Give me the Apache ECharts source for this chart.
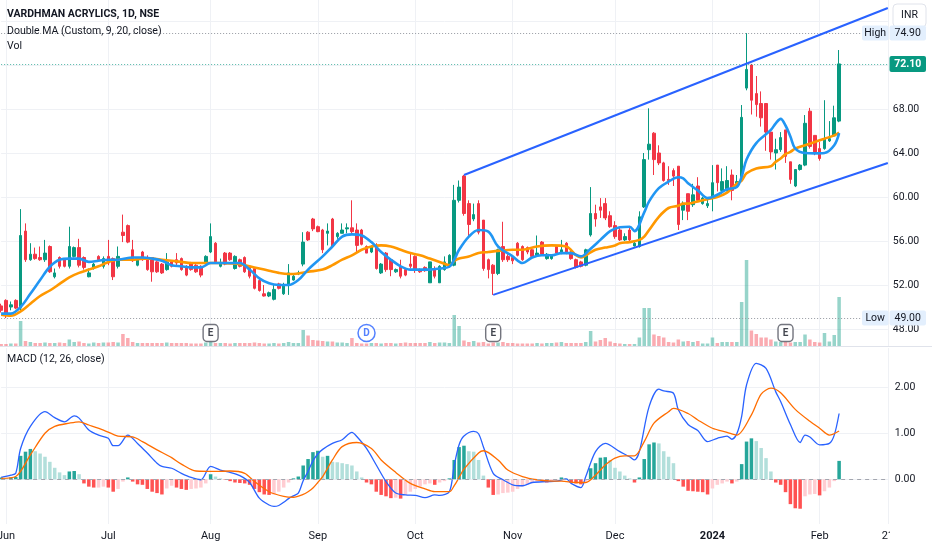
<!DOCTYPE html>
<html><head><meta charset="utf-8">
<script src="https://cdn.jsdelivr.net/npm/echarts@6/dist/echarts.min.js"></script>
<style>html,body{margin:0;padding:0;background:#fff}#c{width:932px;height:550px}</style>
</head><body><div id="c"></div>
<script>
// ---- data (bar position 0 = 31 May 2023, last = 7 Feb 2024) ----
const open = [50.1,50.6,50.0,50.6,49.9,56.9,54.3,54.8,54.5,54.3,
55.5,52.75,54.5,54.3,53.7,54.6,55.4,54.5,52.75,53.5,
54.6,53.7,54.6,54.4,53.7,56.8,57.4,55.2,53.8,55.0,
54.5,54.5,54.1,53.9,53.4,54.1,54.3,54.4,53.7,54.0,
53.8,53.7,54.0,55.0,55.8,53.7,54.9,54.9,53.5,54.3,
54.5,53.7,53.5,52.4,51.2,51.0,50.7,52.1,51.2,52.0,
52.45,53.0,53.9,56.8,58.0,57.3,57.0,56.7,58.0,56.4,
56.7,57.1,57.2,57.0,57.0,55.5,55.0,55.6,53.1,54.9,
54.3,53.2,53.7,53.4,53.9,54.6,53.4,53.6,52.2,53.4,
52.2,53.4,53.7,53.8,59.7,61.9,59.4,58.0,59.4,57.9,
54.3,53.8,53.05,55.5,54.6,54.5,55.8,55.5,55.4,55.2,
54.7,55.9,54.4,54.4,55.5,54.9,55.8,55.0,54.3,54.1,
53.8,56.55,58.5,59.1,59.4,58.3,57.4,57.0,56.1,57.0,
55.55,55.5,59.1,64.3,65.8,64.0,63.1,61.6,62.4,62.8,
58.8,60.3,59.3,61.0,59.4,59.2,60.0,62.9,60.6,60.6,
62.0,61.2,61.85,69.9,72.0,69.4,68.5,68.5,65.9,64.0,
64.3,66.1,63.2,61.0,62.5,62.9,67.8,65.6,64.4,64.4,
65.1,65.55,66.9];
const high = [50.3,50.7,50.5,50.7,58.9,57.6,55.8,55.4,55.5,56.1,
55.6,53.5,54.6,54.4,57.3,55.5,56.2,54.6,53.5,54.0,
54.7,54.6,56.1,54.5,55.5,58.4,57.5,56.1,54.5,55.1,
54.7,54.5,54.2,54.0,54.9,54.2,54.9,54.5,53.8,54.1,
53.9,53.8,54.7,57.6,55.9,54.4,55.0,55.0,54.7,54.4,
54.6,53.8,53.5,52.7,52.0,51.4,52.0,52.2,52.2,53.9,
53.0,53.3,56.8,56.9,58.1,57.4,57.1,57.6,58.1,56.8,
57.6,57.6,59.7,57.6,57.1,55.6,55.6,55.8,54.0,55.0,
54.4,53.5,54.3,53.5,54.9,54.7,53.5,53.7,54.1,53.7,
53.8,54.6,54.8,61.1,61.5,62.0,59.7,59.4,59.7,57.9,
54.4,53.9,55.3,57.75,54.8,54.6,55.9,55.6,55.5,55.3,
56.5,56.0,54.9,54.8,55.6,56.1,55.9,55.1,54.4,54.2,
55.3,60.9,59.3,59.9,59.9,58.7,57.8,57.2,56.7,57.2,
55.95,58.7,64.0,68.06,65.9,64.7,63.2,62.8,62.6,62.8,
59.6,60.3,61.2,61.8,60.0,60.0,62.9,62.9,62.6,62.8,
62.5,62.0,68.36,74.9,72.1,71.0,69.6,68.5,65.9,65.3,
65.9,66.1,63.2,62.5,63.0,67.45,68.1,65.6,65.0,68.8,
66.9,68.3,73.36];
const low = [49.5,49.0,49.7,49.8,49.7,54.1,54.2,54.3,54.2,54.1,
53.1,52.6,53.5,53.6,53.5,54.5,53.6,53.4,52.7,53.4,
54.2,53.5,53.8,52.45,53.5,55.9,55.8,54.1,53.7,54.2,
53.3,52.3,53.1,53.0,53.3,53.6,53.8,53.3,52.8,53.3,
53.1,52.7,53.9,54.9,54.0,53.6,53.8,54.2,53.4,53.6,
53.1,52.6,51.6,51.4,50.95,50.9,50.6,51.6,51.1,51.1,
52.4,52.9,53.7,56.0,56.9,56.8,54.9,55.6,55.4,56.2,
56.7,56.7,56.7,54.9,55.6,54.9,54.9,53.4,53.0,53.2,
52.8,53.1,52.6,52.8,53.5,53.1,53.1,53.2,52.2,52.6,
52.2,53.3,53.6,53.7,59.5,58.3,56.4,57.8,56.6,53.3,
52.6,51.1,52.9,54.1,54.1,53.9,54.6,54.2,54.8,54.5,
54.6,54.7,54.3,54.3,54.8,54.8,54.8,54.3,53.5,53.6,
53.7,56.4,57.3,58.1,57.9,57.2,56.2,56.0,56.0,56.0,
55.5,55.4,59.0,63.4,62.0,62.9,61.4,61.1,61.0,57.0,
57.9,57.9,59.1,59.6,59.3,59.0,58.7,60.5,60.3,60.5,
59.7,61.0,61.6,69.7,67.5,67.3,66.4,64.2,63.4,62.5,
64.1,63.1,61.2,60.9,62.4,62.8,64.4,63.8,63.3,64.3,
65.0,65.5,66.8];
const close = [49.7,49.3,50.2,49.9,56.5,54.3,54.8,54.4,54.3,54.9,
53.2,53.1,53.7,53.7,55.5,55.4,53.8,53.6,53.1,53.9,
54.3,54.4,54.0,52.75,54.6,56.5,55.9,54.2,54.3,54.3,
53.4,53.2,53.2,53.1,54.1,53.7,54.0,53.4,52.9,53.4,
53.2,52.9,54.6,56.4,54.1,54.0,53.9,54.3,54.6,53.7,
53.2,52.8,51.7,51.5,51.0,51.3,51.6,51.7,52.0,53.1,
52.8,53.1,55.9,56.1,57.1,56.85,55.2,56.9,55.5,56.7,
57.0,57.2,56.85,55.6,55.7,54.9,55.5,53.5,53.9,53.4,
53.4,53.4,52.8,52.9,53.7,53.4,53.2,53.3,54.1,52.8,
53.7,54.1,54.7,59.7,60.9,58.5,57.5,58.4,56.8,53.5,
53.4,53.05,55.2,54.3,54.3,54.2,54.7,54.3,55.0,54.6,
54.9,54.8,54.8,54.7,54.9,55.2,54.9,54.4,53.6,53.7,
55.2,58.5,58.0,58.8,58.1,57.3,56.4,56.1,56.4,56.1,
55.8,58.2,63.4,64.8,63.4,63.1,61.5,61.5,61.9,57.5,
59.4,58.7,60.2,59.7,59.9,59.4,61.3,61.3,61.4,61.5,
60.6,61.4,67.24,71.6,68.8,68.4,67.2,65.9,64.1,64.3,
65.4,63.7,61.6,62.5,62.9,66.7,64.6,64.1,63.5,65.3,
65.3,67.2,72.1];
// volume, relative units
const volume = [2,2,2.5,2.5,25,5,4,3,3,3.5,
3,3,3.5,3,6.5,4,4.5,3,2.5,3.5,
3,3.5,3.5,4,3.5,12,8,4,3,3,
3,3,3,3,3.5,3,3,3,3,2.5,
2.5,2.5,3.5,4,3,3,3,2.5,3,3,
3,3,3.5,3,2.5,2.5,3,2.5,3,4,
3,3,16,10.5,6,5.5,5,4.5,4.5,3.5,
3.5,3,8,3,2.5,2.5,3,3,2.5,3,
3,2.5,3,3.5,3,3,3,3,4,3,
3.5,3.5,3,31,20,5.5,4,5,3.5,4,
2.5,3.5,3.5,4,3,3,2.5,2.5,2.5,2.5,
3,2.5,3,3,3.5,4,3,3,3,3,
4,15,4.5,6,8,4.5,3,2.5,2,2,
2,8.5,38,38,11.5,10,8.5,4,3.5,6.5,
4.5,5,4,5,2.5,2.5,8.5,3,4,4,
4,4,44,86,15.5,12,8.5,8.5,6.5,4.5,
4,4,3.5,4,4,11.5,6.5,4,3.5,13,
4.5,11,49];
const macdHist = [0.04,0.03,0.04,0.05,0.51,0.60,0.66,0.61,0.56,0.49,
0.38,0.25,0.15,0.09,0.17,0.18,0.11,-0.09,-0.16,-0.18,
-0.18,-0.16,-0.18,-0.27,-0.21,-0.05,0.04,-0.05,-0.11,-0.12,
-0.21,-0.27,-0.30,-0.33,-0.20,-0.14,-0.18,-0.21,-0.23,-0.21,
-0.20,-0.18,-0.09,0.11,0.06,0.02,-0.01,-0.04,-0.07,-0.08,
-0.09,-0.12,-0.21,-0.28,-0.33,-0.34,-0.33,-0.27,-0.18,-0.07,
0.02,0.06,0.30,0.44,0.59,0.62,0.49,0.51,0.38,0.37,
0.35,0.33,0.30,0.17,0.04,-0.07,-0.11,-0.27,-0.34,-0.37,
-0.41,-0.40,-0.42,-0.34,-0.27,-0.21,-0.16,-0.11,-0.09,-0.12,
-0.07,-0.04,0.02,0.42,0.70,0.73,0.61,0.60,0.42,0.08,
-0.18,-0.34,-0.33,-0.30,-0.29,-0.27,-0.21,-0.16,-0.11,-0.07,
-0.05,-0.04,-0.07,-0.04,-0.01,0.04,0.02,-0.07,-0.09,-0.11,
-0.05,0.24,0.35,0.47,0.48,0.42,0.25,0.17,0.08,0.02,
-0.07,0.04,0.44,0.76,0.80,0.78,0.61,0.49,0.35,-0.04,
-0.16,-0.25,-0.26,-0.27,-0.28,-0.33,-0.20,-0.12,-0.09,-0.05,
-0.09,-0.05,0.33,0.82,0.89,0.83,0.68,0.46,0.17,-0.07,
-0.12,-0.28,-0.54,-0.63,-0.64,-0.37,-0.33,-0.32,-0.35,-0.26,
-0.18,-0.04,0.40];
// [bar position, value] points
const ma9Pts = [[0,49.4],[2,49.4],[4,50.0],[6,51.2],[8,52.45],[10,53.66],[12,54.3],[14,54.4],[16,54.4],[18,54.1],[20,54.2],[22,54.3],[24,54.3],[27,54.5],[29,54.5],[31,54.4],[33,54.2],[35,53.8],[37,53.7],[39,53.6],[41,53.6],[43,54.0],[45,54.0],[47,54.0],[49,54.0],[51,53.4],[53,52.6],[55,52.15],[57,52.0],[59,52.0],[61,52.45],[63,53.4],[66,54.6],[68,55.5],[70,56.4],[72,56.6],[74,56.5],[76,55.9],[78,55.0],[80,54.3],[82,53.7],[84,53.4],[86,53.4],[88,53.4],[90,53.5],[92,53.66],[93,54.3],[94,55.2],[96,56.4],[98,57.0],[100,56.85],[102,55.5],[105,54.6],[107,54.0],[109,54.5],[111,54.7],[113,54.7],[115,54.9],[117,54.9],[119,54.6],[121,55.3],[123,56.1],[125,56.9],[127,57.25],[129,57.3],[130,56.9],[132,58.6],[133,59.6],[135,60.8],[137,61.4],[139,61.8],[140,61.7],[141,61.25],[143,60.6],[145,59.9],[147,60.2],[149,60.7],[151,60.9],[152,61.85],[153,63.4],[155,64.9],[158,66.1],[159,66.7],[160,67.1],[161,66.5],[162,65.5],[163,64.4],[165,64.0],[167,63.97],[169,64.0],[171,64.7],[172,65.8]];
const ma20Pts = [[0,49.3],[2,49.2],[4,49.6],[6,50.3],[8,51.0],[10,51.5],[12,52.1],[14,52.7],[16,53.1],[18,53.4],[20,53.7],[22,54.1],[24,54.3],[27,54.3],[29,54.4],[31,54.4],[33,54.3],[35,54.2],[37,54.1],[39,54.0],[41,54.0],[43,54.0],[45,54.0],[47,53.97],[49,53.9],[51,53.7],[53,53.5],[55,53.3],[57,53.1],[59,53.0],[61,53.05],[63,53.2],[66,53.4],[68,53.8],[70,54.3],[72,54.7],[74,55.2],[76,55.5],[78,55.6],[80,55.5],[82,55.2],[84,54.9],[86,54.7],[88,54.4],[90,54.1],[92,53.8],[93,54.2],[94,54.4],[96,54.6],[98,54.9],[100,55.0],[102,55.1],[105,55.2],[107,55.2],[110,55.5],[113,55.6],[116,55.5],[118,54.7],[119,54.5],[120,54.7],[122,55.2],[124,55.4],[126,55.6],[127,55.8],[129,55.9],[131,56.1],[132,56.4],[133,57.0],[135,58.2],[137,59.0],[139,59.2],[140,59.4],[141,59.4],[143,59.6],[145,59.8],[147,60.0],[149,60.4],[151,61.2],[152,61.5],[153,62.15],[155,62.6],[158,62.8],[159,63.2],[160,63.5],[161,63.9],[162,64.1],[163,64.4],[165,64.7],[167,65.0],[169,65.3],[171,65.6],[172,65.85]];
const macdPts = [[0,0.04],[2,0.09],[3,0.13],[4,0.67],[6,1.15],[9,1.47],[11,1.34],[13,1.25],[15,1.38],[16,1.33],[18,1.07],[20,0.96],[22,0.89],[23,0.73],[24,0.73],[26,0.96],[28,0.78],[30,0.57],[32,0.35],[33,0.28],[35,0.24],[37,0.13],[39,0.04],[41,-0.01],[43,0.28],[45,0.20],[47,0.15],[49,0.08],[51,-0.07],[53,-0.41],[55,-0.56],[56,-0.59],[57,-0.57],[58,-0.50],[59,-0.42],[60,-0.36],[61,-0.30],[62,-0.03],[63,0.17],[64,0.40],[65,0.55],[66,0.65],[68,0.78],[70,0.86],[72,1.02],[73,0.93],[75,0.67],[77,0.31],[79,-0.05],[81,-0.30],[83,-0.34],[85,-0.35],[87,-0.40],[89,-0.34],[90,-0.35],[92,-0.27],[93,0.30],[94,0.75],[95,0.94],[97,1.04],[98,0.99],[99,0.70],[101,0.13],[103,-0.01],[105,-0.12],[107,-0.14],[109,-0.07],[112,-0.05],[114,-0.04],[116,0.01],[117,-0.09],[119,-0.18],[120,0.06],[122,0.60],[124,0.78],[127,0.60],[129,0.49],[130,0.42],[131,0.60],[133,1.58],[135,1.96],[136,1.92],[138,1.87],[139,1.51],[141,1.19],[143,1.06],[145,0.82],[147,0.89],[149,0.94],[150,0.87],[151,0.99],[152,1.37],[153,2.05],[155,2.52],[157,2.41],[159,1.90],[160,1.69],[162,1.19],[164,0.80],[165,0.96],[166,0.92],[168,0.75],[170,0.78],[171,0.96],[172,1.43]];
const signalPts = [[0,0.02],[3,0.06],[6,0.53],[9,1.0],[11,1.15],[14,1.22],[16,1.25],[18,1.18],[21,1.07],[24,0.94],[27,0.92],[29,0.82],[32,0.64],[35,0.47],[37,0.33],[40,0.18],[44,0.17],[47,0.18],[50,0.13],[52,-0.05],[55,-0.27],[58,-0.37],[60,-0.39],[62,-0.33],[63,-0.27],[64,-0.19],[65,-0.07],[66,0.06],[68,0.42],[70,0.71],[73,0.80],[76,0.67],[78,0.42],[81,0.15],[84,-0.09],[87,-0.21],[89,-0.27],[92,-0.27],[93,-0.14],[94,0.04],[95,0.22],[98,0.57],[99,0.62],[102,0.42],[104,0.20],[107,0.06],[110,-0.01],[113,-0.04],[115,-0.04],[118,-0.07],[120,-0.07],[122,0.09],[124,0.31],[126,0.46],[128,0.51],[130,0.51],[132,0.82],[134,1.22],[137,1.47],[138,1.54],[141,1.43],[143,1.29],[146,1.11],[149,1.02],[151,0.96],[154,1.40],[156,1.85],[158,1.98],[160,1.88],[163,1.52],[166,1.26],[168,1.11],[170,0.96],[172,1.05]];
const upperChannel = [[95,62.0],[182,77.18]];
const lowerChannel = [[101,51.1],[182,63.09]];
const tickPos = [1,22,43,65,85,105,126,146,168,182];
const tickLabels = ['Jun','Jul','Aug','Sep','Oct','Nov','Dec','2024','Feb','21'];
const priceTicks = [48,52,56,60,64,68,72,76];
const priceLabels = [48,52,56,60,64,68];
const macdTicks = [0,1,2];
const eventPos = [43,75,101,161];
const eventType = ['E','D','E','E'];
const highPrice = 74.90, lastPrice = 72.10, lowPrice = 49.00;

// ---- build ----
const N = 183;
const cats = Array.from({length: N}, (_, i) => String(i));
const tickMap = {};
tickPos.forEach((p, i) => { tickMap[p] = tickLabels[i]; });
const FONT = 'Roboto';
const TXT = '#131722';
const GRIDC = '#eff1f5';
const UP = '#089981', DOWN = '#F23645';
const L = 1.128, R = 44.17;

const candleData = open.map((o, i) => [o, close[i], low[i], high[i]]);
const volData = volume.map((v, i) => ({value: v, itemStyle: {color: close[i] >= open[i] ? 'rgba(8,153,129,0.42)' : 'rgba(242,54,69,0.42)'}}));
const histData = macdHist.map((h, i) => {
  const prev = i > 0 ? macdHist[i - 1] : 0;
  const c = h >= 0 ? (h > prev ? '#26A69A' : '#B2DFDB') : (h < prev ? '#FF5252' : '#FFCDD2');
  return {value: h, itemStyle: {color: c}};
});
const evData = eventPos.map((p, i) => ({
  value: [p, 13], name: eventType[i],
  symbol: eventType[i] === 'D' ? 'circle' : 'roundRect',
  symbolSize: eventType[i] === 'D' ? 17 : [15, 17],
  itemStyle: {color: '#fff', borderColor: eventType[i] === 'D' ? '#2962FF' : '#50535e', borderWidth: 1.5},
  label: {color: eventType[i] === 'D' ? '#2962FF' : TXT}
}));

const xSplit = {show: true, interval: (i) => tickMap[i] !== undefined, lineStyle: {color: GRIDC, width: 1}};
const titleStyle = (w) => ({fontFamily: FONT, fontSize: 10.5, fontWeight: w, color: TXT});

const option = {
  animation: false,
  backgroundColor: '#fff',
  title: [
    {text: 'VARDHMAN ACRYLICS, 1D, NSE', left: 7, top: 9, padding: 0, textStyle: titleStyle('bold')},
    {text: 'Double MA (Custom, 9, 20, close)', left: 7, top: 25.5, padding: 0, textStyle: titleStyle('normal')},
    {text: 'Vol', left: 7, top: 40.5, padding: 0, textStyle: titleStyle('normal')},
    {text: 'MACD (12, 26, close)', left: 7, top: 354, padding: 0, textStyle: titleStyle('normal')}
  ],
  grid: [
    {left: L, right: R, top: 0, height: 346, outerBoundsMode: 'none'},
    {left: L, right: R, top: 246, height: 100, outerBoundsMode: 'none'},
    {left: L, right: R, top: 348, height: 176, outerBoundsMode: 'none'}
  ],
  xAxis: [
    {gridIndex: 0, type: 'category', data: cats, boundaryGap: false, axisLine: {show: false}, axisTick: {show: false}, axisLabel: {show: false}, splitLine: xSplit},
    {gridIndex: 1, type: 'category', data: cats, boundaryGap: false, show: false},
    {gridIndex: 2, type: 'category', data: cats, boundaryGap: false, axisLine: {show: false}, axisTick: {show: false},
      axisLabel: {interval: (i) => tickMap[i] !== undefined, formatter: (v) => { const t = tickMap[Number(v)]; return t === '2024' ? '{b|2024}' : t; },
        margin: 7, fontFamily: FONT, fontSize: 11, color: TXT, rich: {b: {fontFamily: FONT, fontSize: 11, fontWeight: 'bold', color: TXT}}},
      splitLine: xSplit}
  ],
  yAxis: [
    {gridIndex: 0, type: 'value', position: 'right', min: 46.455, max: 77.909, axisLine: {show: false},
      axisTick: {show: false, customValues: priceTicks},
      axisLabel: {customValues: priceLabels, formatter: (v) => v.toFixed(2), fontFamily: FONT, fontSize: 10.5, color: TXT, margin: 5},
      splitLine: {show: true, lineStyle: {color: GRIDC}}},
    {gridIndex: 1, type: 'value', min: 0, max: 100, show: false, splitLine: {show: false}},
    {gridIndex: 2, type: 'value', position: 'right', min: -0.972, max: 2.854, axisLine: {show: false},
      axisTick: {show: false, customValues: macdTicks},
      axisLabel: {customValues: macdTicks, formatter: (v) => v.toFixed(2), fontFamily: FONT, fontSize: 10.5, color: TXT, margin: 7},
      splitLine: {show: true, lineStyle: {color: GRIDC}}}
  ],
  series: [
    {type: 'bar', xAxisIndex: 1, yAxisIndex: 1, data: volData, barWidth: '72%', z: 1},
    {type: 'candlestick', xAxisIndex: 0, yAxisIndex: 0, data: candleData, barWidth: '62%', z: 3,
      itemStyle: {color: UP, color0: DOWN, borderColor: UP, borderColor0: DOWN, borderWidth: 1},
      markLine: {silent: true, symbol: ['none', 'none'], label: {show: false}, animation: false,
        lineStyle: {type: [1, 2], width: 1},
        data: [
          {yAxis: highPrice, lineStyle: {color: '#9598a1', type: [1, 2], width: 1}},
          {yAxis: lastPrice, lineStyle: {color: '#089981', type: [1, 2], width: 1, opacity: 0.7}},
          {yAxis: lowPrice, lineStyle: {color: '#9598a1', type: [1, 2], width: 1}}
        ]}},
    {type: 'line', xAxisIndex: 0, yAxisIndex: 0, data: ma20Pts, smooth: 0.35, showSymbol: false, z: 4, lineStyle: {color: '#FF9800', width: 2.6}},
    {type: 'line', xAxisIndex: 0, yAxisIndex: 0, data: ma9Pts, smooth: 0.35, showSymbol: false, z: 5, lineStyle: {color: '#2196F3', width: 2.6}},
    {type: 'line', xAxisIndex: 0, yAxisIndex: 0, data: upperChannel, showSymbol: false, z: 6, lineStyle: {color: '#2962FF', width: 2}},
    {type: 'line', xAxisIndex: 0, yAxisIndex: 0, data: lowerChannel, showSymbol: false, z: 6, lineStyle: {color: '#2962FF', width: 2}},
    {type: 'scatter', xAxisIndex: 1, yAxisIndex: 1, data: evData, z: 7,
      label: {show: true, position: 'inside', formatter: (p) => p.name, fontFamily: FONT, fontSize: 10, fontWeight: 'bold'}},
    {type: 'bar', xAxisIndex: 2, yAxisIndex: 2, data: histData, barWidth: '72%', z: 2,
      markLine: {silent: true, symbol: ['none', 'none'], label: {show: false}, animation: false,
        lineStyle: {color: '#a3a6af', type: [4, 4], width: 1}, data: [{yAxis: 0}]}},
    {type: 'line', xAxisIndex: 2, yAxisIndex: 2, data: macdPts, smooth: 0.3, showSymbol: false, z: 4, lineStyle: {color: '#2962FF', width: 1.3}},
    {type: 'line', xAxisIndex: 2, yAxisIndex: 2, data: signalPts, smooth: 0.3, showSymbol: false, z: 4, lineStyle: {color: '#FF6D00', width: 1.3}}
  ]
};

const chart = echarts.init(document.getElementById('c'), null, {renderer: 'canvas'});
chart.setOption(option);

// right-side price tags, placed through the price axis
const yOf = (v) => chart.convertToPixel({yAxisIndex: 0}, v);
const txt = (x, y, s, fill, weight) => ({type: 'text', z: 101, style: {x: x, y: y, text: s, fill: fill,
  font: (weight || 'normal') + ' 10.5px ' + FONT, align: 'center', verticalAlign: 'middle', textAlign: 'center', textVerticalAlign: 'middle'}});
const box = (x, y, w, h, fill, stroke) => ({type: 'rect', z: 100, shape: {x: x, y: y, width: w, height: h, r: 2},
  style: {fill: fill, stroke: stroke || null, lineWidth: 1}});
const yH = yOf(highPrice), yLa = yOf(lastPrice), yLo = yOf(lowPrice);
chart.setOption({graphic: [
  {type: 'line', z: 100, shape: {x1: 0, y1: 346.5, x2: 932, y2: 346.5}, style: {stroke: '#e0e3eb', lineWidth: 1}},
  {type: 'rect', z: 100, shape: {x: 890, y: 527, width: 42, height: 23}, style: {fill: '#fff'}},
  {type: 'rect', z: 100, shape: {x: 893, y: 4, width: 33, height: 23, r: 4}, style: {fill: '#fff', stroke: '#e0e3eb', lineWidth: 1}},
  txt(909.5, 15.8, 'INR', TXT),
  box(862, yH - 7.5, 26.5, 15, '#e3effd'), txt(875.2, yH, 'High', TXT),
  box(889.5, yH - 7.5, 36.5, 15, '#e3effd'), txt(907.7, yH, highPrice.toFixed(2), TXT),
  box(889.5, yLa - 8, 36.5, 16, '#089981'), txt(907.7, yLa, lastPrice.toFixed(2), '#ffffff', 'bold'),
  box(862, yLo - 7.5, 26.5, 15, '#e3effd'), txt(875.2, yLo, 'Low', TXT),
  box(889.5, yLo - 7.5, 36.5, 15, '#e3effd'), txt(907.7, yLo, lowPrice.toFixed(2), TXT)
]});
</script>
</body></html>
